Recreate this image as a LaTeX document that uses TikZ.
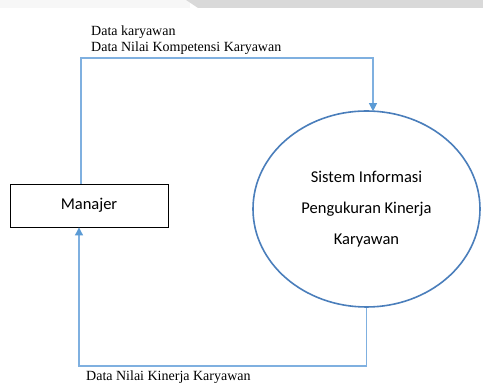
\documentclass[tikz,border=0pt]{standalone}
\usepackage{fontspec}
\setmainfont{Liberation Serif}
\newfontfamily\calib{Carlito}
\usetikzlibrary{arrows.meta,shapes.geometric}
\definecolor{flowblue}{HTML}{7FB0E0}
\definecolor{tipblue}{HTML}{5B9BD5}
\definecolor{ringblue}{HTML}{4A7EBB}
\tikzset{
  flow/.style={draw=flowblue, line width=1.1pt},
  flowarrow/.style={flow, -{Triangle[width=8pt,length=8pt,fill=tipblue,color=tipblue]}},
  entity/.style={draw=black, line width=0.9pt, rectangle, minimum width=158pt, minimum height=43pt, inner sep=0pt, font=\calib\fontsize{16.5}{20}\selectfont},
  process/.style={draw=ringblue, line width=1.6pt, ellipse, minimum width=227pt, minimum height=196pt, inner sep=0pt, align=center, font=\calib\fontsize{16.5}{31}\selectfont},
  lbl/.style={inner sep=0pt, anchor=base west, font=\fontsize{14}{16}\selectfont}
}
\begin{document}
\begin{tikzpicture}[x=1pt,y=1pt]
  \fill[white] (0,0) rectangle (483,385);
  \useasboundingbox (0,0) rectangle (483,385);
  % top band
  \fill[gray!6] (0,377) rectangle (190,385);
  \fill[gray!30] (186,385) -- (483,385) -- (483,377) -- (198,377) -- cycle;
  % nodes
  \node[entity] (man) at (89,179.5) {Manajer};
  \node[process] (sis) at (366.5,176) {Sistem Informasi\\Pengukuran Kinerja\\Karyawan};
  % coordinates
  \coordinate (c1) at (81,327);
  \coordinate (c2) at (373,327);
  \coordinate (c3) at (79,19);
  % connectors
  \draw[flowarrow] (man.north -| c1) -- (c1) -- (c2) -- ([yshift=-1pt]c2 |- sis.north);
  \draw[flowarrow] (sis.south) -- (sis.south |- c3) -- (c3) -- (c3 |- man.south);
  % labels
  \node[lbl] (l1) at (91,349) {Data karyawan};
  \node[lbl] (l2) at (91,333) {Data Nilai Kompetensi Karyawan};
  \node[lbl] (l3) at (86,4) {Data Nilai Kinerja Karyawan};
\end{tikzpicture}
\end{document}
